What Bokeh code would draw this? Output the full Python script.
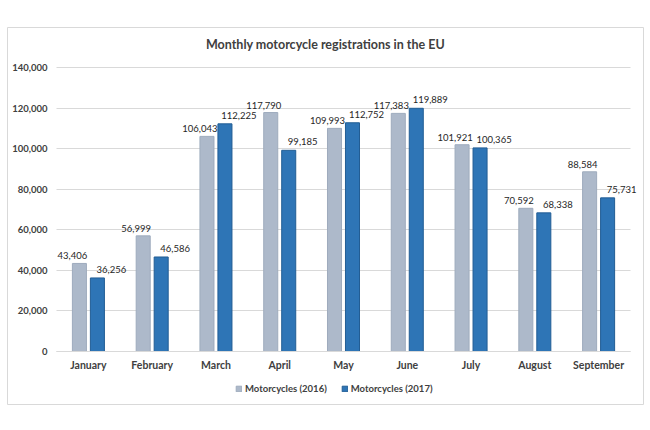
from bokeh.plotting import figure
from bokeh.models import (ColumnDataSource, Range1d, NumeralTickFormatter, FixedTicker,
                          Legend, LegendItem, LabelSet, Label)
from bokeh.core.properties import value
from bokeh.transform import dodge
from bokeh.embed import file_html
from bokeh.resources import INLINE

months = ["January", "February", "March", "April", "May", "June", "July", "August", "September"]
moto_2016 = [43406, 56999, 106043, 117790, 109993, 117383, 101921, 70592, 88584]
moto_2017 = [36256, 46586, 112225, 99185, 112752, 119889, 100365, 68338, 75731]
series_names = ["Motorcycles (2016)", "Motorcycles (2017)"]
y_ticks = [0, 20000, 40000, 60000, 80000, 100000, 120000, 140000]
title_text = "Monthly motorcycle registrations in the EU"

idx = list(range(len(months)))
fmt = lambda v: f"{v:,}"
src = ColumnDataSource(dict(
    x=idx, a=moto_2016, b=moto_2017,
    la=[fmt(v) for v in moto_2016], lb=[fmt(v) for v in moto_2017],
))

FONT = "Lato"
TXT = "#404040"
GRAY = "#adb9ca"
BLUE = "#2e75b6"

# layout geometry (pixels) of the chart box
CAT_PX = 63.75           # width of one category
PLOT_PX = 284            # height of 0..140000
LEFT_PAD, RIGHT_PAD, TOP_PAD, BOTTOM_PAD = 49, 13, 40, 53
ymax = y_ticks[-1]
x_range = Range1d(-0.5 - LEFT_PAD / CAT_PX, len(months) - 0.5 + RIGHT_PAD / CAT_PX)
y_range = Range1d(-BOTTOM_PAD / PLOT_PX * ymax, ymax + TOP_PAD / PLOT_PX * ymax)

p = figure(x_range=x_range, y_range=y_range, width=648, height=428,
           output_backend="svg", toolbar_location=None,
           min_border_left=7, min_border_right=5, min_border_top=27, min_border_bottom=24)
p.outline_line_color = "#d9d9d9"
p.outline_line_width = 1
p.background_fill_color = "white"
p.border_fill_color = "white"

r1 = p.vbar(x=dodge("x", -0.141), top="a", width=0.22, source=src,
            fill_color=GRAY, line_color="#9eabbd", line_width=1)
r2 = p.vbar(x=dodge("x", 0.141), top="b", width=0.22, source=src,
            fill_color=BLUE, line_color="#225d94", line_width=1)

p.add_layout(LabelSet(x=dodge("x", -0.141), y="a", text="la", source=src,
                      text_align="center", text_baseline="bottom", x_offset=-7, y_offset=4,
                      text_font=value(FONT), text_font_size="9.5px", text_color="#262626"))
p.add_layout(LabelSet(x=dodge("x", 0.141), y="b", text="lb", source=src,
                      text_align="center", text_baseline="bottom", x_offset=14, y_offset=5,
                      text_font=value(FONT), text_font_size="9.5px", text_color="#262626"))

# axes fixed inside the chart box
p.yaxis.fixed_location = -0.5
p.yaxis.ticker = FixedTicker(ticks=y_ticks)
p.yaxis.bounds = (0, ymax)
p.yaxis.formatter = NumeralTickFormatter(format="0,0")
p.yaxis.axis_line_color = None
p.yaxis.major_label_standoff = 9
p.yaxis.major_label_text_font_size = "9.5px"

p.xaxis.fixed_location = 0
p.xaxis.ticker = FixedTicker(ticks=idx)
p.xaxis.major_label_overrides = {i: m for i, m in zip(idx, months)}
p.xaxis.bounds = (-0.5, len(months) - 0.5)
p.xaxis.axis_line_color = "#d9d9d9"
p.xaxis.major_label_standoff = 7
p.xaxis.major_label_text_font_size = "10.5px"

for ax in (p.xaxis, p.yaxis):
    ax.major_tick_line_color = None
    ax.minor_tick_line_color = None
    ax.major_tick_out = 0
    ax.major_tick_in = 0
    ax.minor_tick_out = 0
    ax.minor_tick_in = 0
    ax.major_label_text_font = FONT
    ax.major_label_text_color = TXT
    ax.major_label_text_font_style = "bold"

p.xgrid.grid_line_color = None
p.ygrid.ticker = FixedTicker(ticks=y_ticks)
p.ygrid.grid_line_color = "#d9d9d9"
p.ygrid.cross_bounds = (-0.5, len(months) - 0.5)

p.add_layout(Label(x=318, y=360, x_units="screen", y_units="screen", text=title_text,
                   text_align="center", text_baseline="middle", text_font=FONT,
                   text_font_size="12.5px", text_font_style="bold", text_color=TXT))

legend = Legend(items=[LegendItem(label=series_names[0], renderers=[r1]),
                       LegendItem(label=series_names[1], renderers=[r2])],
                location=(228, 10), orientation="horizontal",
                glyph_width=7, glyph_height=7, label_standoff=3, spacing=14,
                padding=0, margin=0, border_line_color=None, background_fill_alpha=0,
                label_text_font=FONT, label_text_font_size="9.5px", label_text_color=TXT,
                label_text_font_style="bold")
p.add_layout(legend, "center")

open("out.html", "w").write(file_html(p, INLINE))
